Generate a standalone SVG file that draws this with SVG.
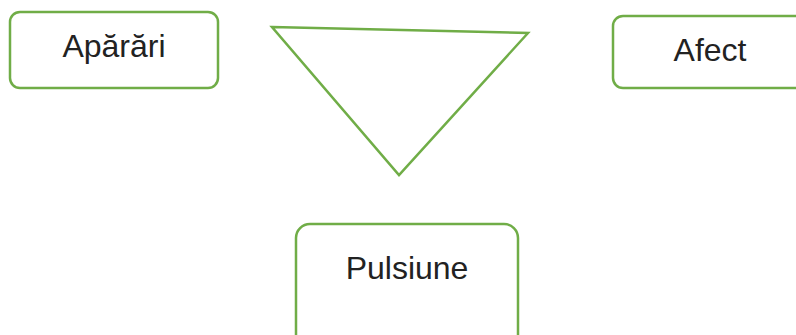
<svg xmlns="http://www.w3.org/2000/svg" width="796" height="335" viewBox="0 0 796 335">
  <style>
    .box { fill: #ffffff; stroke: #70ad47; stroke-width: 2.5; }
    .label { font-family: "Liberation Sans", Arial, sans-serif; font-size: 32px; fill: #222222; text-anchor: middle; }
  </style>
  <rect width="796" height="335" fill="#ffffff"/>
  <g id="aparari">
    <rect class="box" x="10" y="12" width="208" height="76" rx="10"/>
    <text class="label" x="114" y="57">Apărări</text>
  </g>
  <g id="afect">
    <rect class="box" x="613" y="16" width="200" height="72" rx="10"/>
    <text class="label" x="710" y="61">Afect</text>
  </g>
  <g id="pulsiune">
    <rect class="box" x="296" y="224" width="222" height="130" rx="14"/>
    <text class="label" x="407" y="279">Pulsiune</text>
  </g>
  <g id="triangle">
    <polygon points="272,27 528,33 399,175" fill="none" stroke="#70ad47" stroke-width="2.5" stroke-linejoin="miter"/>
  </g>
</svg>
